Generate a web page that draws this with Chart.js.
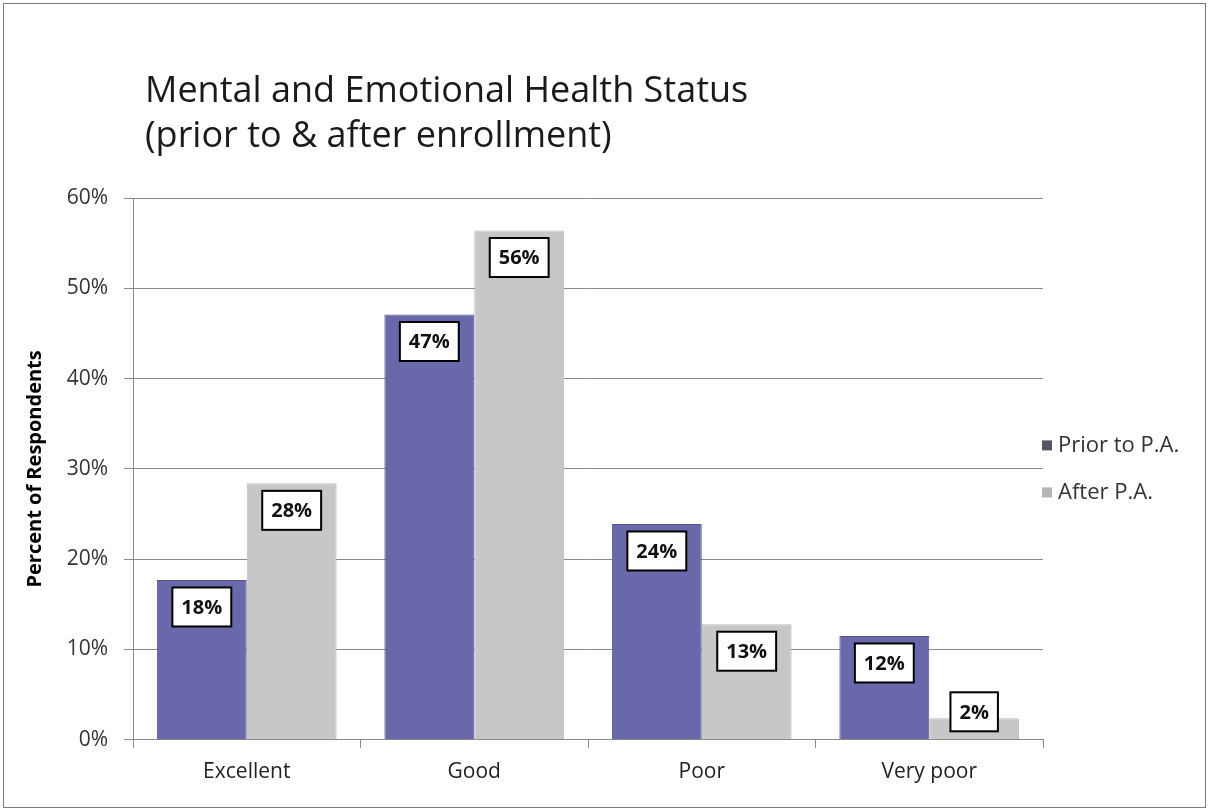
<!DOCTYPE html>
<html>
<head>
<meta charset="utf-8">
<script src="https://cdn.jsdelivr.net/npm/chart.js@4.4.0/dist/chart.umd.min.js"></script>
<style>
  html, body { margin: 0; padding: 0; background: #fff; }
  #wrap { width: 1209px; height: 811px; position: relative; }
</style>
</head>
<body>
<div id="wrap"><canvas id="myChart" width="1209" height="811"></canvas></div>
<script>
// chart data
var categories = ["Excellent", "Good", "Poor", "Very poor"];
var priorValues = [17.7, 47.1, 23.9, 11.5];
var afterValues = [28.4, 56.4, 12.8, 2.4];
var priorLabels = ["18%", "47%", "24%", "12%"];
var afterLabels = ["28%", "56%", "13%", "2%"];
var yTicks = [0, 10, 20, 30, 40, 50, 60];
var titleLines = ["Mental and Emotional Health Status", "(prior to & after enrollment)"];

var FONT = "'Open Sans', 'DejaVu Sans', sans-serif";

// white page, thin frame, two-line title and the side legend
var frameAndTitle = {
  id: 'frameAndTitle',
  beforeDraw: function(chart) {
    var c = chart.ctx;
    c.save();
    c.fillStyle = '#fff';
    c.fillRect(0, 0, chart.width, chart.height);
    c.strokeStyle = '#7a7a7a';
    c.lineWidth = 1;
    c.strokeRect(3.5, 3.5, chart.width - 7, chart.height - 7);
    c.restore();
  },
  afterDraw: function(chart) {
    var c = chart.ctx;
    var area = chart.chartArea;
    c.save();
    c.fillStyle = '#1a1a1a';
    c.font = '36px ' + FONT;
    c.textBaseline = 'middle';
    c.textAlign = 'left';
    c.fillText(titleLines[0], 145, 92);
    c.fillText(titleLines[1], 145, 137);

    // legend, right of the plot, centred on it
    var mid = (area.top + area.bottom) / 2;
    var gap = 47;
    c.font = '22px ' + FONT;
    chart.data.datasets.forEach(function(ds, i) {
      var y = mid + (i - 0.5) * gap;
      c.fillStyle = ds.legendColor;
      c.fillRect(area.right - 1, y - 5, 10, 10);
      c.fillStyle = '#333';
      c.fillText(ds.label, area.right + 15, y);
    });
    c.restore();
  }
};

// boxed value labels inside the top of each bar
var boxLabels = {
  id: 'boxLabels',
  afterDatasetsDraw: function(chart) {
    var c = chart.ctx;
    var base = chart.scales.y.getPixelForValue(0);
    var texts = [priorLabels, afterLabels];
    c.save();
    c.font = 'bold 20px ' + FONT;
    c.textAlign = 'center';
    c.textBaseline = 'middle';
    chart.data.datasets.forEach(function(ds, di) {
      chart.getDatasetMeta(di).data.forEach(function(bar, i) {
        var t = texts[di][i];
        var w = c.measureText(t).width + 18;
        var h = 39;
        var cy = Math.min(bar.y + 27, base - 28);
        c.fillStyle = '#fff';
        c.fillRect(bar.x - w / 2, cy - h / 2, w, h);
        c.strokeStyle = '#000';
        c.lineWidth = 2;
        c.strokeRect(bar.x - w / 2, cy - h / 2, w, h);
        c.fillStyle = '#111';
        c.fillText(t, bar.x, cy + 1);
      });
    });
    c.restore();
  }
};

var ctx = document.getElementById("myChart");
var myChart = new Chart(ctx, {
  type: 'bar',
  data: {
    labels: categories,
    datasets: [{
      label: 'Prior to P.A.',
      data: priorValues,
      backgroundColor: '#6868aa',
      borderColor: '#57578e',
      legendColor: '#555566',
      borderWidth: 1,
      categoryPercentage: 0.79,
      barPercentage: 1.0
    }, {
      label: 'After P.A.',
      data: afterValues,
      backgroundColor: '#c7c7c7',
      borderColor: '#bdbdbd',
      legendColor: '#b5b5b5',
      borderWidth: 1,
      categoryPercentage: 0.79,
      barPercentage: 1.0
    }]
  },
  options: {
    responsive: false,
    animation: false,
    layout: { padding: { top: 198, left: 0, right: 166, bottom: 14 } },
    plugins: {
      title: { display: false },
      tooltip: { enabled: false },
      legend: { display: false }
    },
    scales: {
      x: {
        grid: {
          offset: true,
          drawOnChartArea: false,
          tickLength: 8,
          color: '#8a8a8a'
        },
        border: { color: '#8a8a8a' },
        ticks: {
          padding: 12,
          color: '#222',
          font: { family: FONT, size: 21 }
        }
      },
      y: {
        min: 0,
        max: 60,
        afterBuildTicks: function(scale) {
          scale.ticks = yTicks.map(function(v) { return { value: v }; });
        },
        afterFit: function(scale) { scale.width = 133; },
        grid: { color: '#8a8a8a', tickLength: 9 },
        border: { color: '#8a8a8a' },
        ticks: {
          padding: 16,
          color: '#333',
          font: { family: FONT, size: 21 },
          callback: function(v) { return v + '%'; }
        },
        title: {
          display: true,
          text: 'Percent of Respondents',
          color: '#000',
          padding: { top: 23, bottom: 0 },
          font: { family: FONT, size: 20, weight: 'bold' }
        }
      }
    }
  },
  plugins: [frameAndTitle, boxLabels]
});
</script>
</body>
</html>
